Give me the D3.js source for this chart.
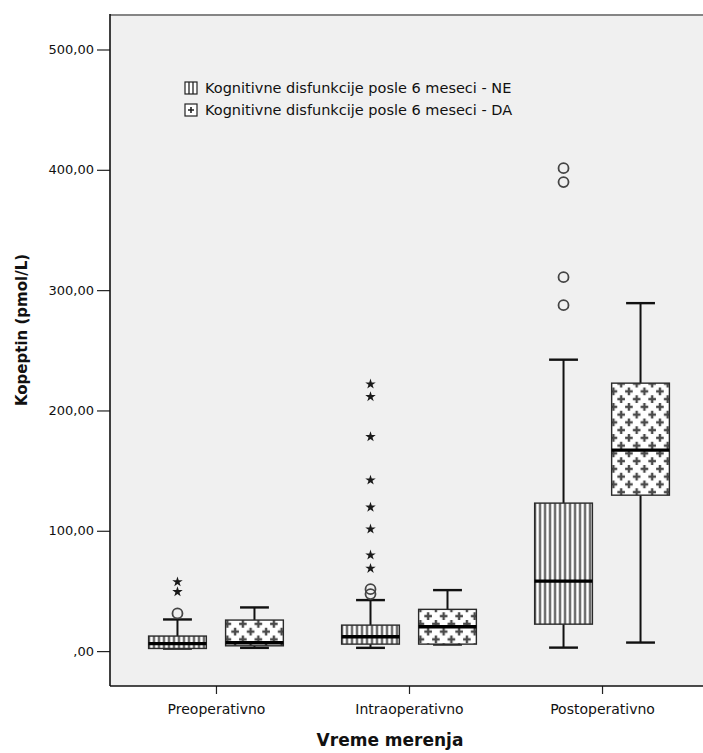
<!DOCTYPE html>
<html>
<head>
<meta charset="utf-8">
<script src="https://cdn.jsdelivr.net/npm/d3@7"></script>
<style>
  body { margin: 0; background: #ffffff; }
  svg { display: block; }
  text { font-family: "DejaVu Sans", "Liberation Sans", sans-serif; fill: #111; }
</style>
</head>
<body>
<svg id="chart" width="703" height="753"></svg>
<script>
// Measurement times (x categories)
const groups = ["Preoperativno", "Intraoperativno", "Postoperativno"];

// Clusters inside each category
const seriesKeys = ["NE", "DA"];
const seriesNames = [
  "Kognitivne disfunkcije posle 6 meseci - NE",
  "Kognitivne disfunkcije posle 6 meseci - DA"
];

// Box-plot statistics per category, pmol/L
const neLow    = [2.1, 2.7, 2.9];
const neQ1     = [2.2, 5.8, 22.4];
const neMedian = [6.2, 11.9, 58.2];
const neQ3     = [12.5, 21.6, 123.0];
const neHigh   = [26.3, 42.4, 242.2];

const daLow    = [2.7, 5.5, 7.1];
const daQ1     = [4.4, 5.8, 129.6];
const daMedian = [6.9, 20.2, 167.0];
const daQ3     = [25.8, 34.7, 222.7];
const daHigh   = [36.3, 50.7, 289.2];

// Outliers (circles) and extreme values (stars)
const neOutliers = [[31.3], [51.5, 47.4], [401.4, 389.8, 310.8, 287.5]];
const neExtremes = [[57.5, 49.3], [221.9, 211.4, 178.1, 142.1, 119.5, 101.4, 79.8, 68.7], []];
const daOutliers = [[], [], []];
const daExtremes = [[], [], []];

// Value axis
const yTickValues = [0, 100, 200, 300, 400, 500];
const yTickLabels = [",00", "100,00", "200,00", "300,00", "400,00", "500,00"];
const yDomain = [-29, 529.5];

const yTitle = "Kopeptin (pmol/L)";
const xTitle = "Vreme merenja";

// ---- assemble per-series records ----
const stats = {
  NE: groups.map((g, i) => ({ group: g, low: neLow[i], q1: neQ1[i], median: neMedian[i], q3: neQ3[i], high: neHigh[i], outliers: neOutliers[i], extremes: neExtremes[i] })),
  DA: groups.map((g, i) => ({ group: g, low: daLow[i], q1: daQ1[i], median: daMedian[i], q3: daQ3[i], high: daHigh[i], outliers: daOutliers[i], extremes: daExtremes[i] }))
};

const plot = { left: 110, right: 708, top: 14, bottom: 686 };

const svg = d3.select("#chart");

const x = d3.scalePoint().domain(groups).range([plot.left, plot.right]).padding(0.549);
const sub = d3.scaleBand().domain(seriesKeys).range([-77, 77]);
const y = d3.scaleLinear().domain(yDomain).range([plot.bottom, plot.top]);

const boxW = sub.bandwidth() * 0.75;
const capW = boxW / 2;

// ---- fill patterns ----
const defs = svg.append("defs");

const stripes = defs.append("pattern")
  .attr("id", "pat-ne").attr("patternUnits", "userSpaceOnUse")
  .attr("width", 5).attr("height", 10);
stripes.append("rect").attr("width", 5).attr("height", 10).attr("fill", "#ffffff");
stripes.append("line").attr("x1", 1.5).attr("x2", 1.5).attr("y1", 0).attr("y2", 10)
  .attr("stroke", "#333333").attr("stroke-width", 1.8);

const crosses = defs.append("pattern")
  .attr("id", "pat-da").attr("patternUnits", "userSpaceOnUse")
  .attr("width", 15.5).attr("height", 15.5);
crosses.append("rect").attr("width", 15.5).attr("height", 15.5).attr("fill", "#ffffff");
[[3.9, 3.9], [11.65, 11.65]].forEach(([cx, cy]) => {
  crosses.append("path")
    .attr("d", `M${cx - 3.8},${cy}H${cx + 3.8}M${cx},${cy - 3.8}V${cy + 3.8}`)
    .attr("stroke", "#4a4a4a").attr("stroke-width", 2.4);
});

// ---- plot background ----
svg.append("rect")
  .attr("x", plot.left).attr("y", plot.top)
  .attr("width", plot.right - plot.left).attr("height", plot.bottom - plot.top)
  .attr("fill", "#f0f0f0");

// ---- boxes ----
const star = d3.symbol().type(d3.symbolStar).size(34);

seriesKeys.forEach(key => {
  const layer = svg.append("g").attr("class", "series-" + key);
  const cg = layer.selectAll("g").data(stats[key]).join("g")
    .attr("transform", d => `translate(${x(d.group) + sub(key) + sub.bandwidth() / 2},0)`);

  // whiskers
  cg.append("line").attr("x1", 0).attr("x2", 0)
    .attr("y1", d => y(d.high)).attr("y2", d => y(d.q3))
    .attr("stroke", "#111").attr("stroke-width", 2);
  cg.append("line").attr("x1", 0).attr("x2", 0)
    .attr("y1", d => y(d.q1)).attr("y2", d => y(d.low))
    .attr("stroke", "#111").attr("stroke-width", 2);
  cg.append("line").attr("x1", -capW / 2).attr("x2", capW / 2)
    .attr("y1", d => y(d.high)).attr("y2", d => y(d.high))
    .attr("stroke", "#111").attr("stroke-width", 2.4);
  cg.append("line").attr("x1", -capW / 2).attr("x2", capW / 2)
    .attr("y1", d => y(d.low)).attr("y2", d => y(d.low))
    .attr("stroke", "#111").attr("stroke-width", 2.4);

  // box
  cg.append("rect")
    .attr("x", -boxW / 2).attr("width", boxW)
    .attr("y", d => y(d.q3)).attr("height", d => y(d.q1) - y(d.q3))
    .attr("fill", `url(#pat-${key.toLowerCase()})`)
    .attr("stroke", "#2a2a2a").attr("stroke-width", 1.4);

  // median
  cg.append("line").attr("x1", -boxW / 2).attr("x2", boxW / 2)
    .attr("y1", d => y(d.median)).attr("y2", d => y(d.median))
    .attr("stroke", "#000").attr("stroke-width", 3.4);

  // outliers
  cg.selectAll("circle.out").data(d => d.outliers).join("circle")
    .attr("class", "out").attr("cx", 0).attr("cy", v => y(v)).attr("r", 5)
    .attr("fill", "none").attr("stroke", "#454545").attr("stroke-width", 1.8);

  // extremes
  cg.selectAll("path.ext").data(d => d.extremes).join("path")
    .attr("class", "ext").attr("d", star)
    .attr("transform", v => `translate(0,${y(v)})`)
    .attr("fill", "#1a1a1a");
});

// ---- frame and axes ----
svg.append("line").attr("x1", plot.left).attr("x2", plot.right)
  .attr("y1", plot.top + 1).attr("y2", plot.top + 1)
  .attr("stroke", "#858585").attr("stroke-width", 2);

const yAxis = d3.axisLeft(y).tickValues(yTickValues)
  .tickFormat((d, i) => yTickLabels[i]).tickSize(13).tickPadding(3);
const gy = svg.append("g").attr("transform", `translate(${plot.left},0)`).call(yAxis);
gy.select(".domain").remove();
gy.selectAll(".tick line").attr("stroke", "#222").attr("stroke-width", 1.2);
gy.selectAll(".tick text").attr("font-size", 13).attr("font-family", "DejaVu Sans").attr("fill", "#111");

svg.append("line").attr("x1", plot.left).attr("x2", plot.left)
  .attr("y1", plot.top).attr("y2", plot.bottom)
  .attr("stroke", "#111").attr("stroke-width", 1.6);

const xAxis = d3.axisBottom(x).tickSize(8).tickPadding(10);
const gx = svg.append("g").attr("transform", `translate(0,${plot.bottom})`).call(xAxis);
gx.select(".domain").remove();
gx.selectAll(".tick line").attr("stroke", "#222").attr("stroke-width", 1.2);
gx.selectAll(".tick text").attr("font-size", 14).attr("font-family", "DejaVu Sans").attr("fill", "#111");

svg.append("line").attr("x1", plot.left).attr("x2", plot.right)
  .attr("y1", plot.bottom).attr("y2", plot.bottom)
  .attr("stroke", "#111").attr("stroke-width", 1.6);

// ---- titles ----
svg.append("text")
  .attr("x", 390).attr("y", 746)
  .attr("text-anchor", "middle")
  .attr("font-size", 17).attr("font-weight", "bold")
  .text(xTitle);

svg.append("text")
  .attr("transform", "translate(27,330) rotate(-90)")
  .attr("text-anchor", "middle")
  .attr("font-size", 15).attr("font-weight", "bold")
  .text(yTitle);

// ---- legend ----
const legend = svg.append("g").attr("transform", "translate(185,82)");
const items = legend.selectAll("g").data(seriesKeys).join("g")
  .attr("transform", (d, i) => `translate(0,${i * 22})`);
items.append("rect").attr("width", 12).attr("height", 12)
  .attr("fill", "#ffffff").attr("stroke", "#222").attr("stroke-width", 1.2);
items.filter(d => d === "NE").selectAll("line").data([4, 8]).join("line")
  .attr("x1", v => v).attr("x2", v => v).attr("y1", 0).attr("y2", 12)
  .attr("stroke", "#222").attr("stroke-width", 1.3);
items.filter(d => d === "DA").append("path")
  .attr("d", "M3,6H9M6,3V9").attr("stroke", "#222").attr("stroke-width", 1.6);
items.append("text").attr("x", 20).attr("y", 11)
  .attr("font-size", 14.5)
  .text((d, i) => seriesNames[i]);
</script>
</body>
</html>
